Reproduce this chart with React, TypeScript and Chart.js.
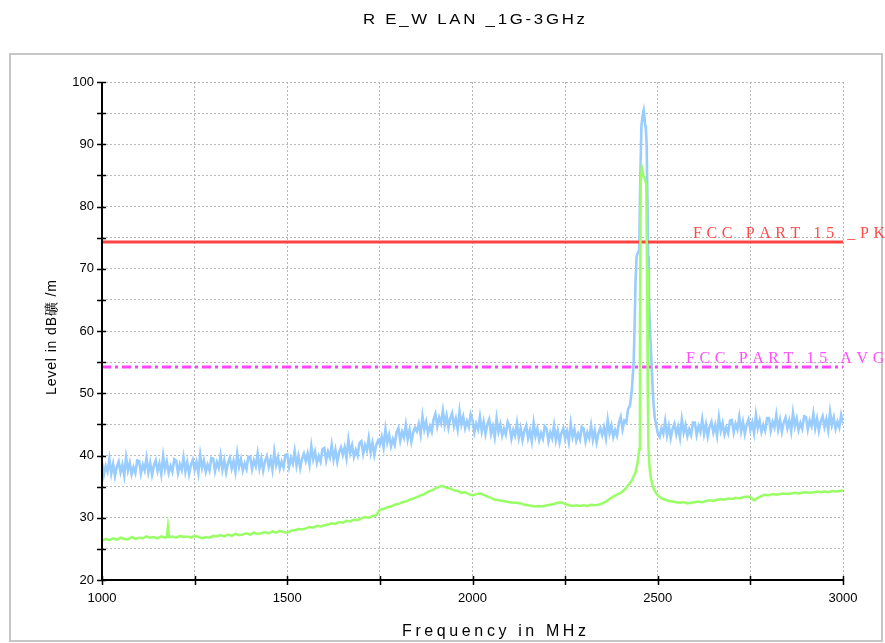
import React, { useEffect, useRef } from "react";
import { Chart, registerables } from "chart.js";

Chart.register(...registerables);

// ---------- data ----------
const TITLE = "R E_W LAN _1G-3GHz";
const X_TITLE = "Frequency in MHz";
const Y_TITLE = "Level in dB礦 /m";
const PK_LABEL = "FCC PART 15 _PK";
const AVG_LABEL = "FCC PART 15 AVG";

const X_MIN = 1000;
const X_MAX = 3000;
const Y_MIN = 20;
const Y_MAX = 100;
const X_LABELS = [1000, 1500, 2000, 2500, 3000];
const Y_LABELS = [20, 30, 40, 50, 60, 70, 80, 90, 100];

const PK_LIMIT = 74.3;
const AVG_LIMIT = 54.2;

// peak detector trace [MHz, dBuV/m]
const peakTrace: [number, number][] = [
  [1000, 38.9], [1005, 36.9], [1010, 38.3], [1015, 37.4], [1020, 39.4], [1025, 37.1], [1030, 38.6], [1035, 36.7],
  [1040, 38.2], [1045, 39.0], [1050, 37.3], [1055, 38.5], [1060, 36.8], [1065, 39.7], [1070, 37.6], [1075, 38.8],
  [1080, 37.0], [1085, 38.1], [1090, 37.2], [1095, 39.2],
  [1100, 39.1], [1105, 37.1], [1110, 38.5], [1115, 37.6], [1120, 39.6], [1125, 37.3], [1130, 38.8], [1135, 36.9],
  [1140, 38.4], [1145, 39.2], [1150, 37.5], [1155, 38.7], [1160, 37.0], [1165, 39.9], [1170, 37.8], [1175, 39.0],
  [1180, 37.2], [1185, 38.3], [1190, 37.4], [1195, 39.4],
  [1200, 39.2], [1205, 37.2], [1210, 38.6], [1215, 37.7], [1220, 39.7], [1225, 37.4], [1230, 38.9], [1235, 37.0],
  [1240, 38.5], [1245, 39.3], [1250, 37.7], [1255, 38.9], [1260, 37.2], [1265, 40.1], [1270, 38.0], [1275, 39.2],
  [1280, 37.4], [1285, 38.5], [1290, 37.6], [1295, 39.6],
  [1300, 39.5], [1305, 37.5], [1310, 38.9], [1315, 38.0], [1320, 40.0], [1325, 37.7], [1330, 39.2], [1335, 37.3],
  [1340, 38.8], [1345, 39.6], [1350, 37.9], [1355, 39.1], [1360, 37.4], [1365, 40.3], [1370, 38.2], [1375, 39.4],
  [1380, 37.6], [1385, 38.7], [1390, 37.8], [1395, 39.8],
  [1400, 39.8], [1405, 37.8], [1410, 39.2], [1415, 38.3], [1420, 40.3], [1425, 38.0], [1430, 39.5], [1435, 37.6],
  [1440, 39.1], [1445, 39.9], [1450, 38.2], [1455, 39.4], [1460, 37.7], [1465, 40.6], [1470, 38.5], [1475, 39.7],
  [1480, 37.9], [1485, 39.0], [1490, 38.1], [1495, 40.1],
  [1500, 40.2], [1505, 38.2], [1510, 39.6], [1515, 38.7], [1520, 40.7], [1525, 38.4], [1530, 39.9], [1535, 38.0],
  [1540, 39.5], [1545, 40.3], [1550, 39.1], [1555, 40.3], [1560, 38.6], [1565, 41.5], [1570, 39.4], [1575, 40.6],
  [1580, 38.8], [1585, 39.9], [1590, 39.0], [1595, 41.0],
  [1600, 41.2], [1605, 39.2], [1610, 40.6], [1615, 39.7], [1620, 41.7], [1625, 39.4], [1630, 40.9], [1635, 39.0],
  [1640, 40.5], [1645, 41.3], [1650, 40.1], [1655, 41.3], [1660, 39.6], [1665, 42.5], [1670, 40.4], [1675, 41.6],
  [1680, 39.8], [1685, 40.9], [1690, 40.0], [1695, 42.0],
  [1700, 42.3], [1705, 40.3], [1710, 41.7], [1715, 40.8], [1720, 42.8], [1725, 40.5], [1730, 42.0], [1735, 40.1],
  [1740, 41.6], [1745, 42.4], [1750, 41.8], [1755, 43.0], [1760, 41.3], [1765, 44.2], [1770, 42.1], [1775, 43.3],
  [1780, 41.5], [1785, 42.6], [1790, 41.7], [1795, 43.7],
  [1800, 44.4], [1805, 42.4], [1810, 43.8], [1815, 42.9], [1820, 44.9], [1825, 42.6], [1830, 44.1], [1835, 42.2],
  [1840, 43.7], [1845, 44.5], [1850, 43.9], [1855, 45.1], [1860, 43.4], [1865, 46.3], [1870, 44.2], [1875, 45.4],
  [1880, 43.6], [1885, 44.7], [1890, 43.8], [1895, 45.8],
  [1900, 46.7], [1905, 44.7], [1910, 46.1], [1915, 45.2], [1920, 47.2], [1925, 44.9], [1930, 46.4], [1935, 44.5],
  [1940, 46.0], [1945, 46.8], [1950, 44.7], [1955, 45.9], [1960, 44.2], [1965, 47.1], [1970, 45.0], [1975, 46.2],
  [1980, 44.4], [1985, 45.5], [1990, 44.6], [1995, 46.6],
  [2000, 45.7], [2005, 43.7], [2010, 45.1], [2015, 44.2], [2020, 46.2], [2025, 43.9], [2030, 45.4], [2035, 43.5],
  [2040, 45.0], [2045, 45.8], [2050, 43.5], [2055, 44.7], [2060, 43.0], [2065, 45.9], [2070, 43.8], [2075, 45.0],
  [2080, 43.2], [2085, 44.3], [2090, 43.4], [2095, 45.4],
  [2100, 44.7], [2105, 42.7], [2110, 44.1], [2115, 43.2], [2120, 45.2], [2125, 42.9], [2130, 44.4], [2135, 42.5],
  [2140, 44.0], [2145, 44.8], [2150, 42.8], [2155, 44.0], [2160, 42.3], [2165, 45.2], [2170, 43.1], [2175, 44.3],
  [2180, 42.5], [2185, 43.6], [2190, 42.7], [2195, 44.7],
  [2200, 44.3], [2205, 42.3], [2210, 43.7], [2215, 42.8], [2220, 44.8], [2225, 42.5], [2230, 44.0], [2235, 42.1],
  [2240, 43.6], [2245, 44.4], [2250, 42.7], [2255, 43.9], [2260, 42.2], [2265, 45.1], [2270, 43.0], [2275, 44.2],
  [2280, 42.4], [2285, 43.5], [2290, 42.6], [2295, 44.6],
  [2300, 44.3], [2305, 42.3], [2310, 43.7], [2315, 42.8], [2320, 44.8], [2325, 42.5], [2330, 44.0], [2335, 42.1],
  [2340, 43.6], [2345, 44.4], [2350, 43.3], [2355, 44.5], [2360, 42.8], [2365, 45.7], [2370, 43.6], [2375, 44.8],
  [2380, 43.0], [2385, 44.1], [2390, 43.2], [2395, 45.2],
  [2400, 46.2], [2405, 44.2], [2410, 45.6], [2415, 45.3], [2420, 47.5], [2425, 48.0], [2430, 50.5], [2435, 55.0],
  [2438, 62.0], [2440, 68.0], [2443, 72.0], [2446, 72.5], [2450, 73.0], [2453, 85.0], [2456, 93.0], [2460, 95.0],
  [2462, 95.5], [2464, 94.5], [2466, 93.0], [2468, 92.5], [2470, 90.0], [2472, 82.0], [2474, 72.0], [2476, 66.0],
  [2478, 62.0], [2480, 59.0], [2483, 55.0], [2486, 51.0], [2489, 48.0], [2492, 46.0], [2496, 44.8], [2500, 43.6],
  [2505, 43.0], [2510, 44.4], [2515, 43.5], [2520, 45.5], [2525, 43.2], [2530, 44.7], [2535, 42.8], [2540, 44.3],
  [2545, 45.1], [2550, 43.4], [2555, 44.6], [2560, 42.9], [2565, 45.8], [2570, 43.7], [2575, 44.9], [2580, 43.1],
  [2585, 44.2], [2590, 43.3], [2595, 45.3],
  [2600, 45.3], [2605, 43.3], [2610, 44.7], [2615, 43.8], [2620, 45.8], [2625, 43.5], [2630, 45.0], [2635, 43.1],
  [2640, 44.6], [2645, 45.4], [2650, 43.7], [2655, 44.9], [2660, 43.2], [2665, 46.1], [2670, 44.0], [2675, 45.2],
  [2680, 43.4], [2685, 44.5], [2690, 43.6], [2695, 45.6],
  [2700, 45.7], [2705, 43.7], [2710, 45.1], [2715, 44.2], [2720, 46.2], [2725, 43.9], [2730, 45.4], [2735, 43.5],
  [2740, 45.0], [2745, 45.8], [2750, 44.1], [2755, 45.3], [2760, 43.6], [2765, 46.5], [2770, 44.4], [2775, 45.6],
  [2780, 43.8], [2785, 44.9], [2790, 44.0], [2795, 46.0],
  [2800, 46.0], [2805, 44.0], [2810, 45.4], [2815, 44.5], [2820, 46.5], [2825, 44.2], [2830, 45.7], [2835, 43.8],
  [2840, 45.3], [2845, 46.1], [2850, 44.4], [2855, 45.6], [2860, 43.9], [2865, 46.8], [2870, 44.7], [2875, 45.9],
  [2880, 44.1], [2885, 45.2], [2890, 44.3], [2895, 46.3],
  [2900, 46.2], [2905, 44.2], [2910, 45.6], [2915, 44.7], [2920, 46.7], [2925, 44.4], [2930, 45.9], [2935, 44.0],
  [2940, 45.5], [2945, 46.3], [2950, 44.6], [2955, 45.8], [2960, 44.1], [2965, 47.0], [2970, 44.9], [2975, 46.1],
  [2980, 44.3], [2985, 45.4], [2990, 44.5], [2995, 46.5], [3000, 45.2],
];

// average detector trace [MHz, dBuV/m]
const avgTrace: [number, number][] = [
  [1000, 26.3], [1010, 26.6], [1020, 26.4], [1030, 26.7], [1040, 26.5], [1050, 26.8], [1060, 26.6], [1070, 26.5],
  [1080, 26.9], [1090, 26.6], [1100, 26.8], [1110, 26.7], [1120, 27.0], [1130, 26.8], [1140, 26.9], [1150, 26.7],
  [1160, 27.0], [1170, 26.8], [1175, 26.9], [1178, 28.6], [1181, 26.9], [1190, 27.0], [1200, 26.8], [1210, 27.1],
  [1220, 26.9], [1230, 27.0], [1240, 26.8], [1250, 27.1], [1260, 26.9], [1270, 26.7], [1280, 26.9], [1290, 26.8],
  [1300, 27.1], [1310, 27.0], [1320, 27.2], [1330, 27.0], [1340, 27.3], [1350, 27.1], [1360, 27.4], [1370, 27.2],
  [1380, 27.3], [1390, 27.5], [1400, 27.3], [1410, 27.6], [1420, 27.4], [1430, 27.5], [1440, 27.7], [1450, 27.5],
  [1460, 27.8], [1470, 27.6], [1480, 27.9], [1490, 27.7], [1500, 27.6], [1510, 27.9], [1520, 28.0], [1530, 28.2],
  [1540, 28.1], [1550, 28.3], [1560, 28.5], [1570, 28.4], [1580, 28.7], [1590, 28.6], [1600, 28.8], [1610, 28.9],
  [1620, 29.1], [1630, 29.0], [1640, 29.3], [1650, 29.2], [1660, 29.5], [1670, 29.4], [1680, 29.7], [1690, 29.6],
  [1700, 29.9], [1710, 30.1], [1720, 30.0], [1730, 30.3], [1740, 30.4], [1750, 31.3], [1760, 31.4], [1770, 31.7],
  [1780, 31.8], [1790, 32.1], [1800, 32.2], [1810, 32.5], [1820, 32.6], [1830, 32.9], [1840, 33.1], [1850, 33.3],
  [1860, 33.6], [1870, 33.8], [1880, 34.2], [1890, 34.4], [1900, 34.7], [1910, 35.0], [1920, 35.1], [1930, 34.8],
  [1940, 34.7], [1950, 34.4], [1960, 34.3], [1970, 34.0], [1980, 34.1], [1990, 33.8], [2000, 33.6], [2010, 33.8],
  [2020, 33.9], [2030, 33.7], [2040, 33.4], [2050, 33.2], [2060, 32.9], [2070, 32.8], [2080, 32.7], [2090, 32.6],
  [2100, 32.5], [2110, 32.4], [2120, 32.4], [2130, 32.3], [2140, 32.1], [2150, 32.0], [2160, 31.9], [2170, 31.8],
  [2180, 31.9], [2190, 31.8], [2200, 32.0], [2210, 32.1], [2220, 32.2], [2230, 32.4], [2240, 32.5], [2250, 32.2],
  [2260, 32.0], [2270, 31.9], [2280, 32.0], [2290, 31.9], [2300, 32.0], [2310, 31.9], [2320, 32.1], [2330, 32.0],
  [2340, 32.1], [2350, 32.3], [2360, 32.6], [2370, 33.0], [2380, 33.4], [2390, 33.7], [2400, 34.0], [2410, 34.5],
  [2420, 35.2], [2430, 36.0], [2440, 37.3], [2446, 39.0], [2450, 41.0], [2452, 60.0], [2454, 84.0], [2457, 86.2],
  [2461, 85.0], [2465, 84.5], [2469, 83.5], [2471, 70.0], [2473, 50.0], [2475, 41.0], [2478, 38.0], [2482, 36.2],
  [2486, 35.2], [2490, 34.5], [2495, 34.0], [2500, 33.6], [2510, 33.1], [2520, 32.9], [2530, 32.7], [2540, 32.6],
  [2550, 32.5], [2560, 32.4], [2570, 32.5], [2580, 32.3], [2590, 32.4], [2600, 32.5], [2610, 32.6], [2620, 32.5],
  [2630, 32.7], [2640, 32.8], [2650, 32.7], [2660, 32.9], [2670, 33.0], [2680, 32.9], [2690, 33.1], [2700, 33.0],
  [2710, 33.2], [2720, 33.1], [2730, 33.3], [2740, 33.4], [2750, 33.3], [2760, 32.8], [2770, 33.2], [2780, 33.5],
  [2790, 33.7], [2800, 33.6], [2810, 33.8], [2820, 33.7], [2830, 33.8], [2840, 33.9], [2850, 33.8], [2860, 33.9],
  [2870, 34.0], [2880, 33.9], [2890, 34.0], [2900, 34.1], [2910, 34.0], [2920, 34.1], [2930, 34.2], [2940, 34.1],
  [2950, 34.2], [2960, 34.1], [2970, 34.3], [2980, 34.2], [2990, 34.3], [3000, 34.4],
];

// ---------- helpers ----------
const SANS = "'Liberation Sans', Arial, sans-serif";
const SERIF = "'Liberation Serif', 'DejaVu Serif', serif";

function drawSpaced(
  ctx: CanvasRenderingContext2D,
  text: string,
  x: number,
  y: number,
  spacing: number,
  sx = 1
) {
  let cx = x;
  for (const ch of Array.from(text)) {
    ctx.save();
    ctx.translate(cx, y);
    ctx.scale(sx, 1);
    ctx.fillText(ch, 0, 0);
    ctx.restore();
    cx += ctx.measureText(ch).width * sx + spacing;
  }
}

function drawFit(
  ctx: CanvasRenderingContext2D,
  text: string,
  left: number,
  width: number,
  y: number,
  sx = 1
) {
  const chars = Array.from(text);
  let natural = 0;
  for (const ch of chars) natural += ctx.measureText(ch).width * sx;
  const spacing = chars.length > 1 ? (width - natural) / (chars.length - 1) : 0;
  drawSpaced(ctx, text, left, y, spacing, sx);
}

const decorPlugin = {
  id: "decor",
  beforeDraw(chart: any) {
    const ctx: CanvasRenderingContext2D = chart.ctx;
    ctx.save();
    ctx.fillStyle = "#ffffff";
    ctx.fillRect(0, 0, chart.width, chart.height);
    ctx.strokeStyle = "#c6c6c6";
    ctx.lineWidth = 2;
    ctx.strokeRect(10, 54, 872, 587);
    ctx.restore();
  },
  afterDraw(chart: any) {
    const ctx: CanvasRenderingContext2D = chart.ctx;
    const { left, right, top, bottom } = chart.chartArea;
    const xs = chart.scales.x;
    const ys = chart.scales.y;
    ctx.save();
    // axes
    ctx.strokeStyle = "#000";
    ctx.lineWidth = 2;
    ctx.beginPath();
    ctx.moveTo(left, top);
    ctx.lineTo(left, bottom);
    ctx.lineTo(right, bottom);
    ctx.stroke();
    // tick marks
    ctx.lineWidth = 1.5;
    ctx.beginPath();
    for (let v = Y_MIN; v <= Y_MAX; v += 5) {
      const y = Math.round(ys.getPixelForValue(v)) + 0.5;
      ctx.moveTo(left - 5, y);
      ctx.lineTo(left + 4, y);
    }
    for (let v = X_MIN; v <= X_MAX; v += 250) {
      const x = Math.round(xs.getPixelForValue(v)) + 0.5;
      ctx.moveTo(x, bottom - 4);
      ctx.lineTo(x, bottom + 5);
    }
    ctx.stroke();

    // title
    ctx.fillStyle = "#000";
    ctx.textBaseline = "alphabetic";
    ctx.textAlign = "left";
    ctx.font = `14px ${SANS}`;
    drawFit(ctx, TITLE, 363, 222, 24, 1.2);

    // x title
    ctx.font = `16px ${SANS}`;
    drawFit(ctx, X_TITLE, 402, 184, 636);

    // y title
    ctx.save();
    ctx.translate(56, 395);
    ctx.rotate(-Math.PI / 2);
    ctx.font = `14px ${SANS}`;
    drawFit(ctx, Y_TITLE, 0, 115, 0);
    ctx.restore();

    // limit labels
    ctx.font = `16px ${SERIF}`;
    ctx.fillStyle = "#ff4a4a";
    drawSpaced(ctx, PK_LABEL, 693, 238, 4.6);
    ctx.fillStyle = "#ff4dff";
    drawSpaced(ctx, AVG_LABEL, 686, 363, 4.6);
    ctx.restore();
  },
};

export default function App() {
  const canvasRef = useRef<HTMLCanvasElement | null>(null);

  useEffect(() => {
    const canvas = canvasRef.current;
    if (!canvas) return;
    const toXY = (arr: [number, number][]) => arr.map(([x, y]) => ({ x, y }));
    const chart = new Chart(canvas, {
      type: "line",
      data: {
        datasets: [
          {
            label: "Average",
            data: toXY(avgTrace),
            borderColor: "#99ff66",
            borderWidth: 2.5,
            pointRadius: 0,
            tension: 0,
            order: 0,
          },
          {
            label: "FCC PART 15 _PK",
            data: [
              { x: X_MIN, y: PK_LIMIT },
              { x: X_MAX, y: PK_LIMIT },
            ],
            borderColor: "#ff4444",
            borderWidth: 3,
            pointRadius: 0,
            order: 1,
          },
          {
            label: "FCC PART 15 AVG",
            data: [
              { x: X_MIN, y: AVG_LIMIT },
              { x: X_MAX, y: AVG_LIMIT },
            ],
            borderColor: "#ff44ff",
            borderWidth: 3,
            borderDash: [9, 4, 3, 4],
            pointRadius: 0,
            order: 1,
          },
          {
            label: "Peak",
            data: toXY(peakTrace),
            borderColor: "#99ccff",
            borderWidth: 2.6,
            pointRadius: 0,
            tension: 0,
            order: 2,
          },
        ],
      },
      options: {
        responsive: false,
        animation: false,
        devicePixelRatio: 1,
        layout: { padding: { left: 0, right: 42, top: 82, bottom: 0 } },
        plugins: {
          legend: { display: false },
          tooltip: { enabled: false },
          title: { display: false },
        },
        scales: {
          x: {
            type: "linear",
            min: X_MIN,
            max: X_MAX,
            afterFit: (scale: any) => {
              scale.height = 63;
            },
            ticks: {
              stepSize: 250,
              autoSkip: false,
              maxRotation: 0,
              padding: 11,
              color: "#000",
              font: { size: 13, family: SANS },
              callback: (v: any) => (X_LABELS.includes(Number(v)) ? String(v) : ""),
            },
            grid: { color: "#b8b8b8", lineWidth: 1, drawTicks: false },
            border: { display: false, dash: [2, 2] },
          },
          y: {
            type: "linear",
            min: Y_MIN,
            max: Y_MAX,
            afterFit: (scale: any) => {
              scale.width = 102;
            },
            ticks: {
              stepSize: 5,
              autoSkip: false,
              padding: 8,
              color: "#000",
              font: { size: 13, family: SANS },
              callback: (v: any) => (Y_LABELS.includes(Number(v)) ? String(v) : ""),
            },
            grid: { color: "#b8b8b8", lineWidth: 1, drawTicks: false },
            border: { display: false, dash: [2, 2] },
          },
        },
      },
      plugins: [decorPlugin],
    } as any);
    return () => chart.destroy();
  }, []);

  return (
    <div style={{ position: "fixed", left: 0, top: 0, width: 885, height: 643, background: "#fff" }}>
      <canvas ref={canvasRef} width={885} height={643} style={{ display: "block" }} />
    </div>
  );
}
